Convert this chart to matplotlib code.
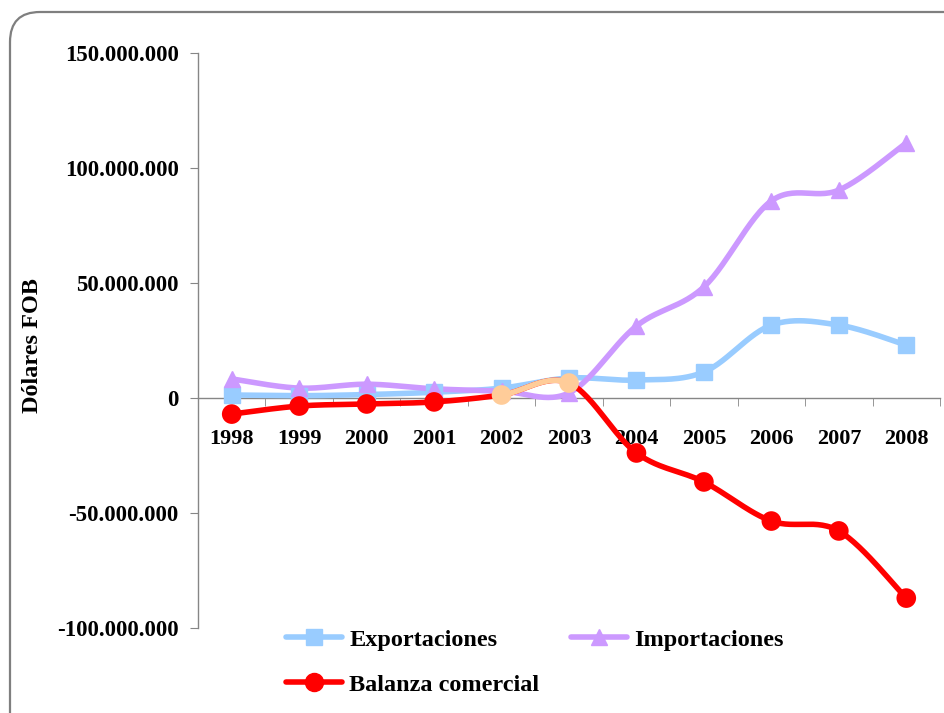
import numpy as np
import matplotlib.pyplot as plt
from matplotlib.patches import FancyBboxPatch
from matplotlib.ticker import FuncFormatter, MultipleLocator
from matplotlib.lines import Line2D

# Datos
anios = ["1998", "1999", "2000", "2001", "2002", "2003", "2004", "2005", "2006", "2007", "2008"]
exportaciones = [1.3e6, 1.0e6, 1.5e6, 2.5e6, 4.3e6, 8.7e6, 7.8e6, 11.3e6, 31.7e6, 31.7e6, 23.0e6]
importaciones = [8.3e6, 4.3e6, 6.0e6, 4.0e6, 3.0e6, 2.2e6, 31.3e6, 48.3e6, 85.7e6, 90.4e6, 110.9e6]
balanza = [-7.0e6, -3.5e6, -2.6e6, -1.7e6, 1.3e6, 6.5e6, -23.9e6, -36.5e6, -53.5e6, -57.8e6, -87.0e6]

c_exp = "#99CCFF"
c_imp = "#CC99FF"
c_bal = "#FF0000"
c_pos = "#FFCC99"

plt.rcParams['font.family'] = ['Liberation Serif', 'DejaVu Serif']
plt.rcParams['font.weight'] = 'bold'


def suavizar(x, y, n=30):
    # curva tipo Excel (Bezier con puntos de control a 1/6)
    x = np.asarray(x, float)
    y = np.asarray(y, float)
    px, py = [], []
    for i in range(len(x) - 1):
        i0 = max(i - 1, 0)
        i3 = min(i + 2, len(x) - 1)
        p0 = np.array([x[i], y[i]])
        p3 = np.array([x[i + 1], y[i + 1]])
        p1 = p0 + (p3 - np.array([x[i0], y[i0]])) / 6
        p2 = p3 - (np.array([x[i3], y[i3]]) - p0) / 6
        t = np.linspace(0, 1, n)[:, None]
        pts = (1 - t) ** 3 * p0 + 3 * (1 - t) ** 2 * t * p1 + 3 * (1 - t) * t ** 2 * p2 + t ** 3 * p3
        px.extend(pts[:, 0])
        py.extend(pts[:, 1])
    return np.array(px), np.array(py)


fig = plt.figure(figsize=(9.44, 7.13), dpi=100)
ax = fig.add_axes([198 / 944, 1 - 628 / 713, 742 / 944, 575 / 713])

x = np.arange(len(anios))
lw = 4.0

sx, sy = suavizar(x, exportaciones)
ax.plot(sx, sy, color=c_exp, lw=lw, solid_capstyle='round', zorder=3)
ax.plot(x, exportaciones, 's', color=c_exp, ms=11, zorder=4)

sx, sy = suavizar(x, importaciones)
ax.plot(sx, sy, color=c_imp, lw=lw, solid_capstyle='round', zorder=3)
ax.plot(x, importaciones, '^', color=c_imp, ms=12, zorder=4)

sx, sy = suavizar(x, balanza)
ax.plot(sx, sy, color=c_bal, lw=lw, solid_capstyle='round', zorder=5)
# tramo positivo en otro color
m = (sx >= 4) & (sx <= 5)
ax.plot(sx[m], sy[m], color=c_pos, lw=lw, solid_capstyle='round', zorder=5)
bal = np.array(balanza)
cols = [c_pos if v > 0 else c_bal for v in bal]
ax.scatter(x, bal, s=200, c=cols, zorder=6, linewidths=0)

ax.set_xlim(-0.5, 10.5)
ax.set_ylim(-100e6, 150e6)
ax.yaxis.set_major_locator(MultipleLocator(50e6))
ax.yaxis.set_major_formatter(FuncFormatter(lambda v, p: "0" if v == 0 else f"{v:,.0f}".replace(",", ".")))

ax.spines['top'].set_visible(False)
ax.spines['right'].set_visible(False)
ax.spines['bottom'].set_position(('data', 0))
for s in ['left', 'bottom']:
    ax.spines[s].set_color('#868686')
    ax.spines[s].set_linewidth(1.0)

ax.set_xticks(x)
ax.set_xticklabels(anios)
ax.set_xticks(np.arange(-0.5, 10.6, 1), minor=True)
ax.tick_params(axis='x', which='major', length=0, pad=22, labelsize=16)
ax.tick_params(axis='x', which='minor', length=6, direction='out', color='#868686')
ax.tick_params(axis='y', length=6, direction='out', color='#868686', labelsize=16.5, pad=8)

fig.text(32 / 944, 1 - 346 / 713, "Dólares FOB", rotation=90, ha='center', va='center', fontsize=17.5, fontweight='bold')

handles = [
    Line2D([], [], color=c_exp, lw=lw, marker='s', ms=11, solid_capstyle='round'),
    Line2D([], [], color=c_bal, lw=lw, marker='o', ms=13, solid_capstyle='round'),
    Line2D([], [], color=c_imp, lw=lw, marker='^', ms=12, solid_capstyle='round'),
]
labels = ["Exportaciones", "Balanza comercial", "Importaciones"]
fig.legend(handles, labels, ncol=2, frameon=False, fontsize=17.5,
           loc='upper left', bbox_to_anchor=(264 / 944, 1 - 607 / 713),
           handlelength=2.3, handletextpad=0.3, columnspacing=1.3, labelspacing=0.95)

# borde redondeado
borde = FancyBboxPatch((0.10, -0.5), 9.9, 7.51, boxstyle="round,pad=0,rounding_size=0.3",
                       transform=fig.dpi_scale_trans, fill=False, edgecolor='#7f7f7f', lw=1.6)
fig.patches.append(borde)

fig.savefig("out.png", dpi=100)
